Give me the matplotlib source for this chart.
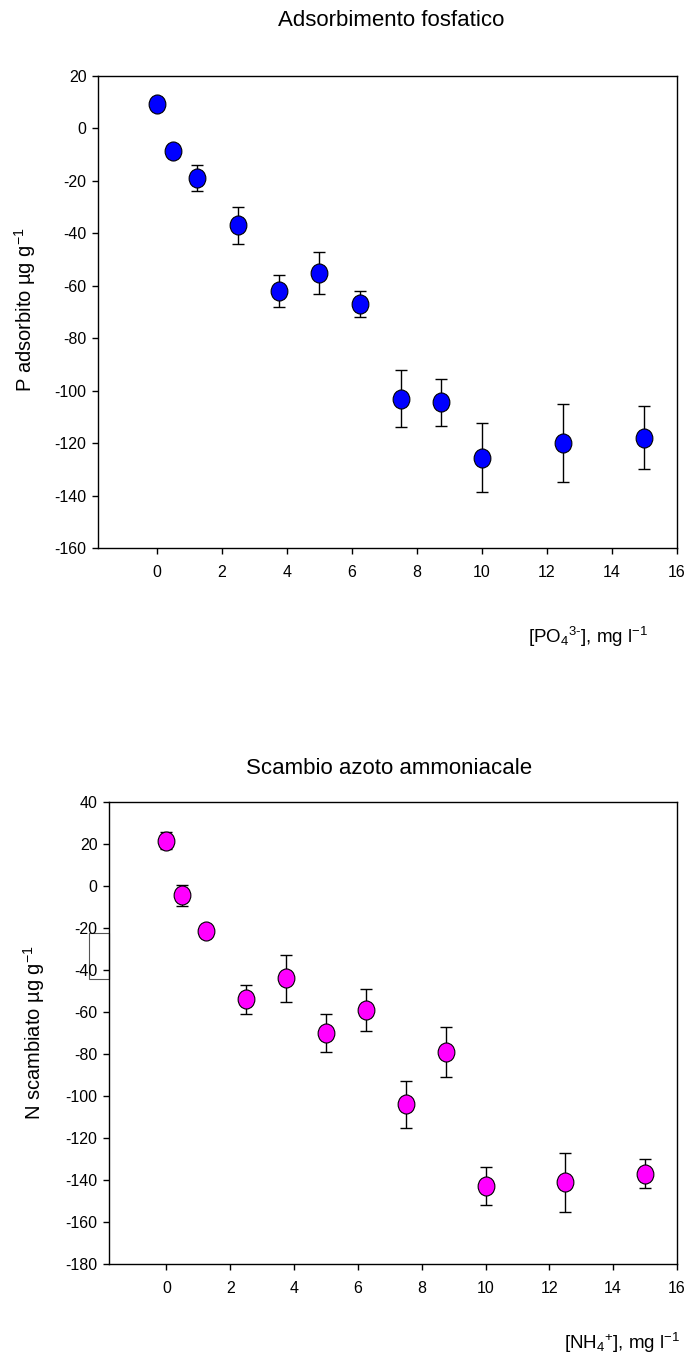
import matplotlib
matplotlib.use('Agg')
import matplotlib.pyplot as plt
from matplotlib.path import Path
from matplotlib.transforms import Affine2D
from matplotlib.patches import Rectangle

plt.rcParams['font.family'] = ['Liberation Sans', 'DejaVu Sans']
plt.rcParams['mathtext.fontset'] = 'custom'
plt.rcParams['mathtext.rm'] = 'Liberation Sans'
plt.rcParams['mathtext.it'] = 'Liberation Sans'
plt.rcParams['mathtext.default'] = 'regular'
plt.rcParams['axes.unicode_minus'] = False

# concentrations (mg l-1)
conc = [0, 0.5, 1.25, 2.5, 3.75, 5, 6.25, 7.5, 8.75, 10, 12.5, 15]

# phosphate adsorbed (ug g-1)
p_mean = [9.5, -8.5, -19, -37, -62, -55, -67, -103, -104.5, -125.5, -120, -118]
p_err = [1.5, 2, 5, 7, 6, 8, 5, 11, 9, 13, 15, 12]

# ammonium exchanged (ug g-1)
n_mean = [21.5, -4.5, -21.5, -54, -44, -70, -59, -104, -79, -143, -141, -137]
n_err = [4, 5, 1.5, 7, 11, 9, 10, 11, 12, 9, 14, 7]

x_ticks = [0, 2, 4, 6, 8, 10, 12, 14, 16]
p_ticks = list(range(-160, 21, 20))
n_ticks = list(range(-180, 41, 20))

# slightly tall ellipse marker
ellipse = Path.unit_circle().transformed(Affine2D().scale(0.88, 1.0))


def style_axes(ax, yticks):
    ax.set_xlim(-1.8, 16)
    ax.set_xticks(x_ticks)
    ax.set_yticks(yticks)
    ax.set_ylim(yticks[0], yticks[-1])
    ax.tick_params(direction='out', length=4.3, width=1, labelsize=11.5)
    ax.tick_params(axis='x', pad=8)
    ax.tick_params(axis='y', pad=4)
    for s in ax.spines.values():
        s.set_linewidth(1.0)
        s.set_color('black')


def draw_points(ax, means, errs, color):
    ax.errorbar(conc, means, yerr=errs, fmt='none', ecolor='black',
                elinewidth=1, capsize=4.3, capthick=1, zorder=2)
    ax.plot(conc, means, linestyle='none', marker=ellipse, markersize=13.7,
            markerfacecolor=color, markeredgecolor='black',
            markeredgewidth=0.8, zorder=3)


fig = plt.figure(figsize=(6.88, 13.58), dpi=100)

ax1 = fig.add_axes([98 / 688, 1 - 548 / 1358, 579 / 688, 472 / 1358])
style_axes(ax1, p_ticks)
draw_points(ax1, p_mean, p_err, '#0000FF')
fig.text(391 / 688, 1 - 21 / 1358, 'Adsorbimento fosfatico',
         ha='center', va='center', fontsize=16)
fig.text(25 / 688, 1 - 310 / 1358, r'P adsorbito µg g$^{-1}$',
         rotation=90, ha='center', va='center', fontsize=14.5)
fig.text(588 / 688, 1 - 637 / 1358, r'[PO$_4$$^{3\text{-}}$], mg l$^{-1}$',
         ha='center', va='center', fontsize=13.5)

ax2 = fig.add_axes([109 / 688, 1 - 1264 / 1358, 568 / 688, 462 / 1358])
style_axes(ax2, n_ticks)
draw_points(ax2, n_mean, n_err, '#FF00FF')
fig.text(389 / 688, 1 - 768 / 1358, 'Scambio azoto ammoniacale',
         ha='center', va='center', fontsize=16)
fig.text(34 / 688, 1 - 1033 / 1358, r'N scambiato µg g$^{-1}$',
         rotation=90, ha='center', va='center', fontsize=14.5)
fig.text(622 / 688, 1 - 1343 / 1358, r'[NH$_4$$^{+}$], mg l$^{-1}$',
         ha='center', va='center', fontsize=13.5)

# leftover empty box beside the second axis
ax2.add_patch(Rectangle((-2.43, -44.4), 0.63, 22.0, fill=False,
                        edgecolor='#555555', linewidth=0.8, clip_on=False))

fig.savefig('out.png', dpi=100)
